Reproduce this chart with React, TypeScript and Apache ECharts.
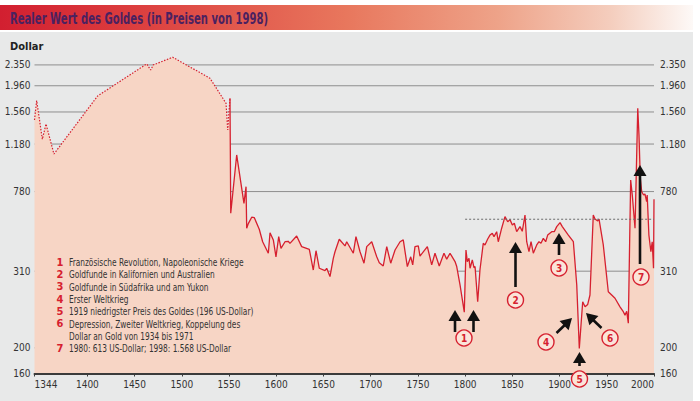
import { useEffect, useRef } from "react"
import * as echarts from "echarts"

const FONT = '"Liberation Sans Narrow", "DejaVu Sans Condensed", "Arial Narrow", sans-serif'
const RED = "#d6202f"
const FILL = "#f7d5c5"
const GRID_COLOR = "#8e8e8e"
const INK = "#333333"

const X_TICKS = [1344, 1400, 1450, 1500, 1550, 1600, 1650, 1700, 1750, 1800, 1850, 1900, 1950, 2000]

// log scale; the line printed "310" sits near 390 on that scale in the original
const Y_TICK_VALUES = [160, 200, 390, 780, 1180, 1560, 1960, 2350]
const Y_TICK_LABELS = ["160", "200", "310", "780", "1.180", "1.560", "1.960", "2.350"]

// dotted reference line: 1980 price of 613 US-Dollar
const REF_LEVEL = 613
const REF_FROM = 1800

// dotted part of the curve (sparse early records)
const EARLY_YEARS = [1344, 1346.3, 1352.3, 1356.2, 1364.6, 1410.9, 1462.8, 1467.0, 1469.8, 1490.3, 1529.8, 1546.8, 1548.6, 1551.0]
const EARLY_VALUES = [1455, 1722, 1230, 1405, 1082, 1794, 2370, 2248, 2350, 2512, 2093, 1683, 1334, 1758]

const MODERN_YEARS = [
  1551.0, 1551.8, 1558.1, 1565.8, 1568.0, 1568.7, 1570.4, 1574.0, 1576.7, 1582.0,
  1585.6, 1591.6, 1593.4, 1596.9, 1599.7, 1602.6, 1605.0, 1609.3, 1612.7, 1614.5,
  1621.6, 1626.9, 1635.0, 1639.2, 1642.1, 1645.6, 1651.6, 1653.4, 1656.9, 1660.4,
  1662.2, 1666.7, 1672.8, 1674.6, 1681.6, 1684.4, 1688.7, 1692.9, 1695.8, 1701.1,
  1706.4, 1709.1, 1713.3, 1717.0, 1721.2, 1725.8, 1731.1, 1734.5, 1738.8, 1742.4,
  1744.5, 1746.9, 1750.4, 1752.2, 1760.0, 1764.6, 1768.1, 1772.6, 1777.6, 1780.5,
  1784.0, 1789.3, 1791.1, 1794.6, 1799.1, 1800.9, 1802.3, 1804.1, 1805.2, 1807.6,
  1809.4, 1810.5, 1813.3, 1815.7, 1819.2, 1821.0, 1823.9, 1826.3, 1828.8, 1830.6,
  1833.4, 1835.1, 1838.7, 1842.2, 1845.1, 1847.5, 1850.0, 1852.1, 1854.6, 1858.1,
  1860.5, 1863.4, 1865.2, 1867.6, 1869.8, 1872.2, 1875.8, 1878.2, 1880.3, 1882.8,
  1885.3, 1887.4, 1891.7, 1894.4, 1897.0, 1900.5, 1902.9, 1909.3, 1914.6, 1918.2,
  1920.9, 1924.5, 1927.0, 1929.8, 1932.2, 1935.7, 1937.5, 1940.4, 1941.8, 1946.3,
  1951.6, 1955.2, 1958.7, 1964.0, 1967.5, 1969.3, 1971.1, 1972.8, 1975.3, 1977.0,
  1979.9, 1982.8, 1984.1, 1985.5, 1987.0, 1989.0, 1990.4, 1992.2, 1992.8, 1994.6,
  1996.7, 1998.1, 1999.5, 2000.0,
]
const MODERN_VALUES = [
  1758, 646, 1073, 704, 814, 567, 590, 624, 622, 562,
  504, 456, 545, 512, 442, 527, 476, 504, 506, 497,
  530, 483, 472, 394, 466, 400, 392, 400, 372, 436,
  462, 515, 486, 504, 456, 527, 462, 418, 483, 504,
  442, 420, 408, 483, 418, 469, 504, 512, 406, 442,
  412, 483, 486, 445, 483, 412, 456, 408, 456, 433,
  456, 424, 406, 346, 273, 469, 424, 436, 400, 430,
  402, 406, 299, 394, 497, 490, 516, 534, 542, 527,
  550, 504, 567, 627, 600, 611, 583, 592, 550, 575,
  552, 636, 504, 462, 504, 456, 490, 504, 497, 519,
  504, 534, 550, 550, 575, 595, 575, 534, 504, 346,
  199, 299, 286, 292, 317, 636, 614, 604, 614, 490,
  326, 317, 308, 286, 274, 266, 275, 248, 863, 757,
  567, 1611, 1277, 876, 779, 757, 764, 714, 757, 534,
  462, 504, 400, 730,
]

const NOTE_NUMBERS = ["1", "2", "3", "4", "5", "6", "", "7"]
const NOTE_TEXTS = [
  "Französische Revolution, Napoleonische Kriege",
  "Goldfunde in Kalifornien und Australien",
  "Goldfunde in Südafrika und am Yukon",
  "Erster Weltkrieg",
  "1919 niedrigster Preis des Goldes (196 US-Dollar)",
  "Depression, Zweiter Weltkrieg, Koppelung des",
  "Dollar an Gold von 1934 bis 1971",
  "1980: 613 US-Dollar; 1998: 1.568 US-Dollar",
]

// annotation arrows [tipX, tipY, tailX, tailY] and markers [label, cx, cy]
const ARROWS = [
  [455, 310, 455, 332],
  [473.5, 310, 473.5, 332],
  [515.5, 242, 515.5, 287],
  [559, 233, 559, 255],
  [572, 318, 556.5, 333],
  [579.5, 352, 579.5, 366],
  [586, 313, 601.5, 328],
  [640, 165, 640, 264],
]
const MARKERS: [string, number, number][] = [
  ["1", 464, 338],
  ["2", 515.5, 300],
  ["3", 559, 268],
  ["4", 546, 342],
  ["5", 579.5, 379],
  ["6", 610, 338],
  ["7", 641, 277],
]

function arrow(tipX: number, tipY: number, tailX: number, tailY: number) {
  const dx = tipX - tailX
  const dy = tipY - tailY
  const len = Math.hypot(dx, dy)
  const ux = dx / len
  const uy = dy / len
  const head = 11
  const half = 6.5
  const bx = tipX - ux * head
  const by = tipY - uy * head
  return [
    {
      type: "line",
      z: 100,
      shape: { x1: tailX, y1: tailY, x2: bx + ux, y2: by + uy },
      style: { stroke: "#111", lineWidth: 2.6 },
    },
    {
      type: "polygon",
      z: 100,
      shape: {
        points: [
          [tipX, tipY],
          [bx - uy * half, by + ux * half],
          [bx + uy * half, by - ux * half],
        ],
      },
      style: { fill: "#111" },
    },
  ]
}

export default function App() {
  const chartRef = useRef<HTMLDivElement>(null)

  useEffect(() => {
    if (!chartRef.current) return
    document.body.style.margin = "0"

    const chart = echarts.init(chartRef.current, undefined, { renderer: "svg" })

    const gridSeries = Y_TICK_VALUES.map((v, i) => ({
      type: "line",
      z: 1,
      silent: true,
      clip: false,
      symbol: "circle",
      symbolSize: 0.1,
      showSymbol: true,
      lineStyle: { color: GRID_COLOR, width: 1 },
      itemStyle: { color: "rgba(0,0,0,0)" },
      label: { fontFamily: FONT, fontSize: 10, color: INK },
      data: [
        { value: [1344, v], label: { show: true, position: "left", distance: 4, formatter: Y_TICK_LABELS[i] } },
        { value: [2000, v], label: { show: true, position: "right", distance: 6, formatter: Y_TICK_LABELS[i] } },
      ],
    }))

    const noteElements: any[] = []
    NOTE_TEXTS.forEach((t, i) => {
      const y = 262 + i * 12.35
      if (NOTE_NUMBERS[i]) {
        noteElements.push({
          type: "text",
          z: 50,
          x: 60,
          y,
          style: { text: NOTE_NUMBERS[i], fill: RED, font: `bold 11px ${FONT}`, textAlign: "center", textVerticalAlign: "middle" },
        })
      }
      noteElements.push({
        type: "text",
        z: 50,
        x: 69,
        y,
        scaleX: 0.75,
        style: { text: t, fill: INK, font: `11px ${FONT}`, textAlign: "left", textVerticalAlign: "middle" },
      })
    })

    const annotationElements: any[] = []
    ARROWS.forEach(([a, b, c, d]) => annotationElements.push(...arrow(a, b, c, d)))
    MARKERS.forEach(([label, cx, cy]) => {
      annotationElements.push({
        type: "circle",
        z: 100,
        shape: { cx, cy, r: 8 },
        style: { fill: "#fbe4d9", stroke: RED, lineWidth: 1.4 },
      })
      annotationElements.push({
        type: "text",
        z: 101,
        x: cx,
        y: cy + 0.5,
        style: { text: label, fill: RED, font: `bold 10px ${FONT}`, textAlign: "center", textVerticalAlign: "middle" },
      })
    })

    chart.setOption({
      animation: false,
      grid: { left: 34.5, right: 46, top: 44.8, bottom: 27.5, containLabel: false, outerBoundsMode: "none" },
      xAxis: {
        type: "value",
        min: 1344,
        max: 2000,
        z: 10,
        axisLine: { onZero: false, lineStyle: { color: "#3b3b3b", width: 2 } },
        axisTick: { customValues: X_TICKS, length: 3, lineStyle: { color: "#3b3b3b" } },
        axisLabel: {
          customValues: X_TICKS,
          formatter: (v: number) => String(v),
          color: INK,
          fontFamily: FONT,
          fontSize: 10,
          margin: 6,
          alignMinLabel: "left",
          alignMaxLabel: "right",
        },
        splitLine: { show: false },
      },
      yAxis: {
        type: "log",
        min: 160,
        max: 2800,
        axisLine: { show: false },
        axisTick: { show: false },
        axisLabel: { show: false },
        splitLine: { show: false },
      },
      graphic: [
        { type: "rect", z: -10, shape: { x: 0, y: 32, width: 693, height: 369 }, style: { fill: "#e8e9e9" } },
        {
          type: "rect",
          z: -10,
          shape: { x: 0, y: 5, width: 693, height: 25 },
          style: {
            fill: new echarts.graphic.LinearGradient(0, 0, 1, 0, [
              { offset: 0, color: "#d21f30" },
              { offset: 0.2, color: "#dc3f3f" },
              { offset: 0.5, color: "#e8775d" },
              { offset: 0.72, color: "#eea389" },
              { offset: 0.88, color: "#f4cdbd" },
              { offset: 1, color: "#fdf9f7" },
            ]),
          },
        },
        {
          type: "text",
          z: 50,
          x: 10,
          y: 18,
          scaleX: 0.7,
          style: {
            text: "Realer Wert des Goldes (in Preisen von 1998)",
            fill: "#4b2160",
            font: `bold 16px ${FONT}`,
            textAlign: "left",
            textVerticalAlign: "middle",
          },
        },
        {
          type: "text",
          z: 50,
          x: 10,
          y: 46,
          style: { text: "Dollar", fill: "#222", font: `bold 11px ${FONT}`, textAlign: "left", textVerticalAlign: "middle" },
        },
        ...noteElements,
        ...annotationElements,
      ],
      series: [
        ...gridSeries,
        {
          type: "line",
          z: 2,
          silent: true,
          symbol: "none",
          lineStyle: { color: RED, width: 1.2, type: [1.5, 1.5] },
          areaStyle: { color: FILL, opacity: 1, origin: "start" },
          data: EARLY_YEARS.map((y, i) => [y, EARLY_VALUES[i]]),
        },
        {
          type: "line",
          z: 3,
          silent: true,
          symbol: "none",
          lineStyle: { color: RED, width: 1.3 },
          areaStyle: { color: FILL, opacity: 1, origin: "start" },
          data: MODERN_YEARS.map((y, i) => [y, MODERN_VALUES[i]]),
        },
        {
          type: "line",
          z: 4,
          silent: true,
          symbol: "none",
          lineStyle: { color: "#6a6a6a", width: 1, type: [2, 2] },
          data: [
            [REF_FROM, REF_LEVEL],
            [2000, REF_LEVEL],
          ],
        },
      ],
    })

    return () => {
      chart.dispose()
    }
  }, [])

  return <div ref={chartRef} style={{ width: "700px", height: "401px" }} />
}
